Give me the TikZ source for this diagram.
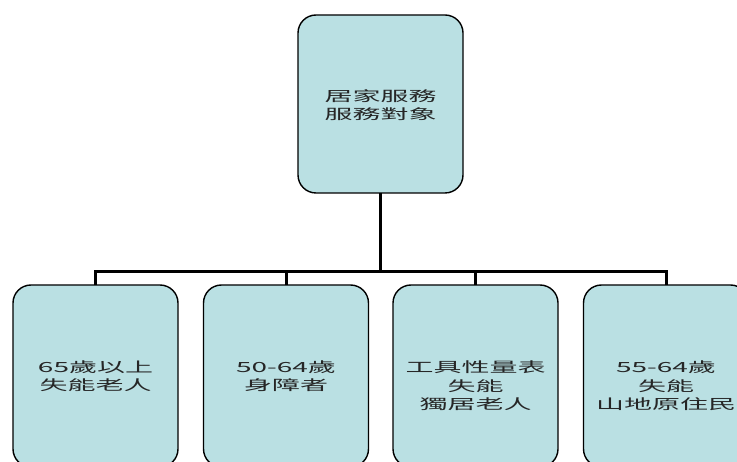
\documentclass[tikz,border=0pt]{standalone}
\usepackage{fontspec}
\newfontfamily\cjk{Noto Sans CJK TC}
\definecolor{boxfill}{RGB}{186,224,227}
\newcommand{\myws}[1]{\scalebox{2}[1]{#1}}
\tikzset{
  box/.style={draw=black, line width=1.4pt, fill=boxfill, rounded corners=18pt,
    minimum width=165pt, inner sep=0pt, outer sep=0pt},
  lbl/.style={align=center, inner sep=0pt, font=\cjk\fontsize{14}{18.5}\selectfont, text=black!85},
  conn/.style={line width=3pt, draw=black}
}
\begin{document}
\begin{tikzpicture}[x=1pt,y=-1pt]
\useasboundingbox (0,0) rectangle (737,462);
\node[box, minimum height=178pt] (top) at (380.5,104) {};
\node[box, minimum height=182pt] (b1) at (95.5,376) {};
\node[box, minimum height=182pt] (b2) at (286,376) {};
\node[box, minimum height=182pt] (b3) at (475.5,376) {};
\node[box, minimum height=182pt] (b4) at (666,376) {};
\node[lbl] (t0) at (380.5,105) {\myws{居家服務}\\\myws{服務對象}};
\node[lbl] (t1) at (95.5,376) {\myws{65歲以上}\\\myws{失能老人}};
\node[lbl] (t2) at (286,376) {\myws{50-64歲}\\\myws{身障者}};
\node[lbl] (t3) at (475.5,386) {\myws{工具性量表}\\\myws{失能}\\\myws{獨居老人}};
\node[lbl] (t4) at (666,386) {\myws{55-64歲}\\\myws{失能}\\\myws{山地原住民}};
\coordinate (j) at (380.5,272);
\draw[conn] (top.south) -- (j);
\draw[conn] (j) -| (b1.north);
\draw[conn] (j) -| (b2.north);
\draw[conn] (j) -| (b3.north);
\draw[conn] (j) -| (b4.north);
\end{tikzpicture}
\end{document}
